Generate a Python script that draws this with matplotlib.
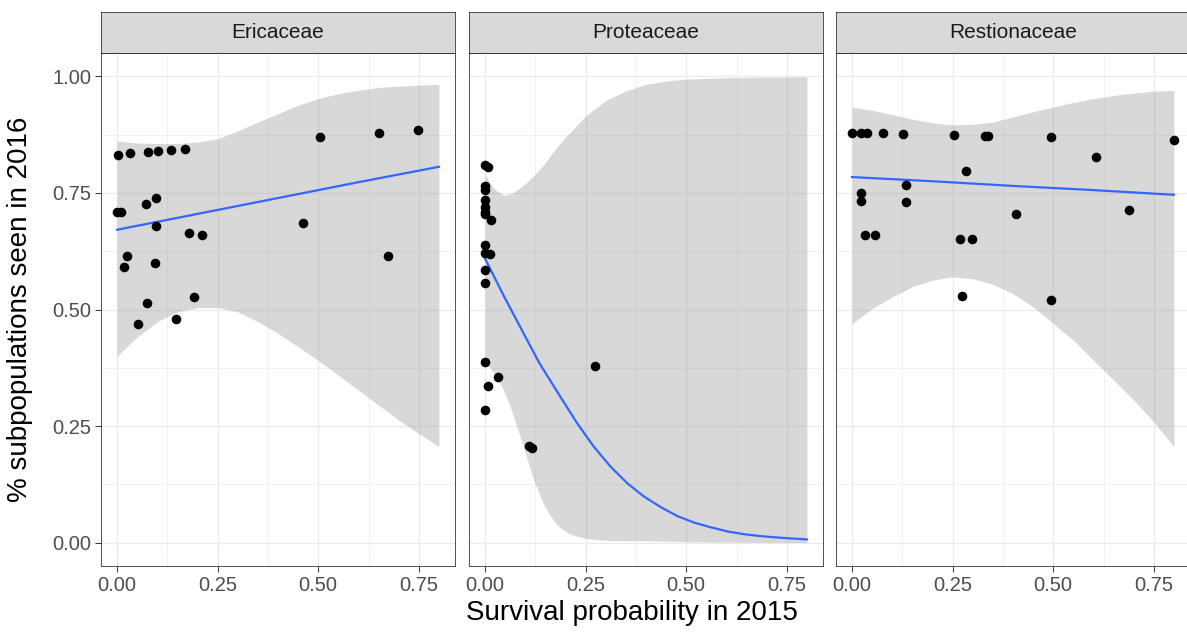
import numpy as np
import matplotlib.pyplot as plt

plt.rcParams['font.family'] = ['Liberation Sans', 'DejaVu Sans']

families = ['Ericaceae', 'Proteaceae', 'Restionaceae']

# points
eric_x = [0.002, 0.033, 0.077, 0.101, 0.135, 0.168, 0.504, 0.650, 0.748,
          0.0, 0.01, 0.073, 0.096, 0.097, 0.178, 0.210, 0.463,
          0.024, 0.016, 0.095, 0.674, 0.190, 0.074, 0.146, 0.051]
eric_y = [0.832, 0.835, 0.838, 0.840, 0.843, 0.845, 0.869, 0.879, 0.885,
          0.708, 0.708, 0.727, 0.740, 0.679, 0.664, 0.659, 0.686,
          0.614, 0.591, 0.599, 0.615, 0.527, 0.514, 0.479, 0.469]

prot_x = [0.0, 0.007, 0.0, 0.0, 0.0, 0.0, 0.0, 0.0, 0.014, 0.0, 0.0,
          0.011, 0.0, 0.001, 0.0, 0.031, 0.006, 0.001, 0.272, 0.108, 0.117]
prot_y = [0.809, 0.806, 0.764, 0.756, 0.734, 0.720, 0.709, 0.704, 0.691, 0.639, 0.621,
          0.620, 0.585, 0.556, 0.387, 0.356, 0.337, 0.284, 0.379, 0.208, 0.202]

rest_x = [0.0, 0.023, 0.036, 0.077, 0.126, 0.253, 0.331, 0.338, 0.494, 0.801,
          0.606, 0.282, 0.135, 0.023, 0.023, 0.135, 0.408, 0.689,
          0.033, 0.056, 0.268, 0.297, 0.274, 0.494]
rest_y = [0.879, 0.879, 0.879, 0.878, 0.877, 0.874, 0.872, 0.872, 0.869, 0.863,
          0.827, 0.797, 0.766, 0.749, 0.733, 0.731, 0.704, 0.714,
          0.659, 0.659, 0.651, 0.651, 0.528, 0.521]

# fitted curves and confidence bands
grid_x = [0, 0.05, 0.1, 0.15, 0.2, 0.25, 0.3, 0.35, 0.4, 0.45,
          0.5, 0.55, 0.6, 0.65, 0.7, 0.75, 0.8]
eric_hi = [0.861, 0.857, 0.856, 0.856, 0.859, 0.866, 0.883, 0.902, 0.920, 0.938,
           0.952, 0.963, 0.970, 0.976, 0.979, 0.981, 0.983]
eric_lo = [0.400, 0.441, 0.474, 0.495, 0.504, 0.504, 0.495, 0.474, 0.449, 0.420,
           0.391, 0.359, 0.327, 0.295, 0.263, 0.234, 0.206]
rest_hi = [0.934, 0.927, 0.918, 0.908, 0.900, 0.896, 0.897, 0.902, 0.913, 0.924,
           0.934, 0.944, 0.952, 0.959, 0.964, 0.968, 0.970]
rest_lo = [0.470, 0.502, 0.527, 0.549, 0.563, 0.570, 0.566, 0.554, 0.534, 0.506,
           0.470, 0.434, 0.391, 0.349, 0.306, 0.259, 0.206]

line_x = [0, 0.2, 0.4, 0.6, 0.8]
eric_fit = [0.671, 0.705, 0.739, 0.773, 0.806]
rest_fit = [0.784, 0.775, 0.765, 0.756, 0.746]

prot_band_x = [0, 0.012, 0.025, 0.046, 0.06, 0.071, 0.087, 0.1, 0.12, 0.145, 0.16,
               0.179, 0.2, 0.212, 0.25, 0.3, 0.35, 0.4, 0.46, 0.5, 0.6, 0.7, 0.8]
prot_hi = [0.790, 0.772, 0.757, 0.745, 0.747, 0.751, 0.761, 0.770, 0.786, 0.810, 0.827,
           0.849, 0.870, 0.880, 0.915, 0.948, 0.969, 0.983, 0.991, 0.994, 0.997, 0.998, 0.999]
prot_lo = [0.384, 0.377, 0.360, 0.327, 0.298, 0.270, 0.228, 0.192, 0.136, 0.084, 0.060,
           0.038, 0.024, 0.018, 0.009, 0.005, 0.004, 0.004, 0.003, 0.002, 0.001, 0.0005, 0.0003]
prot_line_x = [0, 0.046, 0.09, 0.135, 0.187, 0.229, 0.270, 0.312, 0.354, 0.395,
               0.437, 0.478, 0.52, 0.561, 0.603, 0.645, 0.686, 0.728, 0.8]
prot_fit = [0.609, 0.530, 0.458, 0.385, 0.313, 0.256, 0.206, 0.163, 0.127, 0.099,
            0.076, 0.057, 0.043, 0.033, 0.024, 0.018, 0.014, 0.011, 0.007]

panels = [
    (eric_x, eric_y, grid_x, eric_lo, eric_hi, line_x, eric_fit),
    (prot_x, prot_y, prot_band_x, prot_lo, prot_hi, prot_line_x, prot_fit),
    (rest_x, rest_y, grid_x, rest_lo, rest_hi, line_x, rest_fit),
]

W, H = 1187, 632
fig = plt.figure(figsize=(W / 100, H / 100), dpi=100)

lefts = [101, 469, 836]
pw = 354
top, bottom, strip_top = 53, 566, 12

for i, (px, py, bx, lo, hi, lx, fit) in enumerate(panels):
    ax = fig.add_axes([lefts[i] / W, (H - bottom) / H, pw / W, (bottom - top) / H])
    ax.fill_between(bx, lo, hi, color='#999999', alpha=0.38, linewidth=0, zorder=2)
    ax.plot(lx, fit, color='#3366FF', lw=1.6, zorder=3)
    ax.scatter(px, py, s=48, color='black', linewidths=0, zorder=4)

    ax.set_xlim(-0.04, 0.84)
    ax.set_ylim(-0.05, 1.05)
    ax.set_xticks([0, 0.25, 0.5, 0.75])
    ax.set_xticklabels(['0.00', '0.25', '0.50', '0.75'])
    ax.set_xticks([0.125, 0.375, 0.625], minor=True)
    ax.set_yticks([0, 0.25, 0.5, 0.75, 1.0])
    ax.set_yticks([0.125, 0.375, 0.625, 0.875], minor=True)
    ax.grid(which='major', color='#EBEBEB', lw=1.0)
    ax.grid(which='minor', color='#EBEBEB', lw=0.5)
    ax.set_axisbelow(True)
    for s in ax.spines.values():
        s.set_color('#333333')
        s.set_linewidth(0.6)
    ax.tick_params(which='minor', length=0)
    ax.tick_params(which='major', length=4, width=0.7, color='#333333',
                   labelsize=14.5, labelcolor='#4D4D4D', pad=3)
    if i == 0:
        ax.set_yticklabels(['0.00', '0.25', '0.50', '0.75', '1.00'])
    else:
        ax.tick_params(axis='y', which='both', left=False, labelleft=False)

    # facet strip
    st = fig.add_axes([lefts[i] / W, (H - top) / H, pw / W, (top - strip_top) / H])
    st.set_facecolor('#D9D9D9')
    st.set_xticks([])
    st.set_yticks([])
    for s in st.spines.values():
        s.set_color('#333333')
        s.set_linewidth(0.6)
    st.text(0.5, 0.5, families[i], ha='center', va='center',
            fontsize=15, color='#1A1A1A', transform=st.transAxes)

fig.text(632 / W, 1 - 613 / H, 'Survival probability in 2015',
         ha='center', va='center', fontsize=20, color='black')
fig.text(20 / W, 1 - 309 / H, '% subpopulations seen in 2016',
         ha='center', va='center', rotation=90, fontsize=20, color='black')

fig.savefig('out.png', dpi=100)
